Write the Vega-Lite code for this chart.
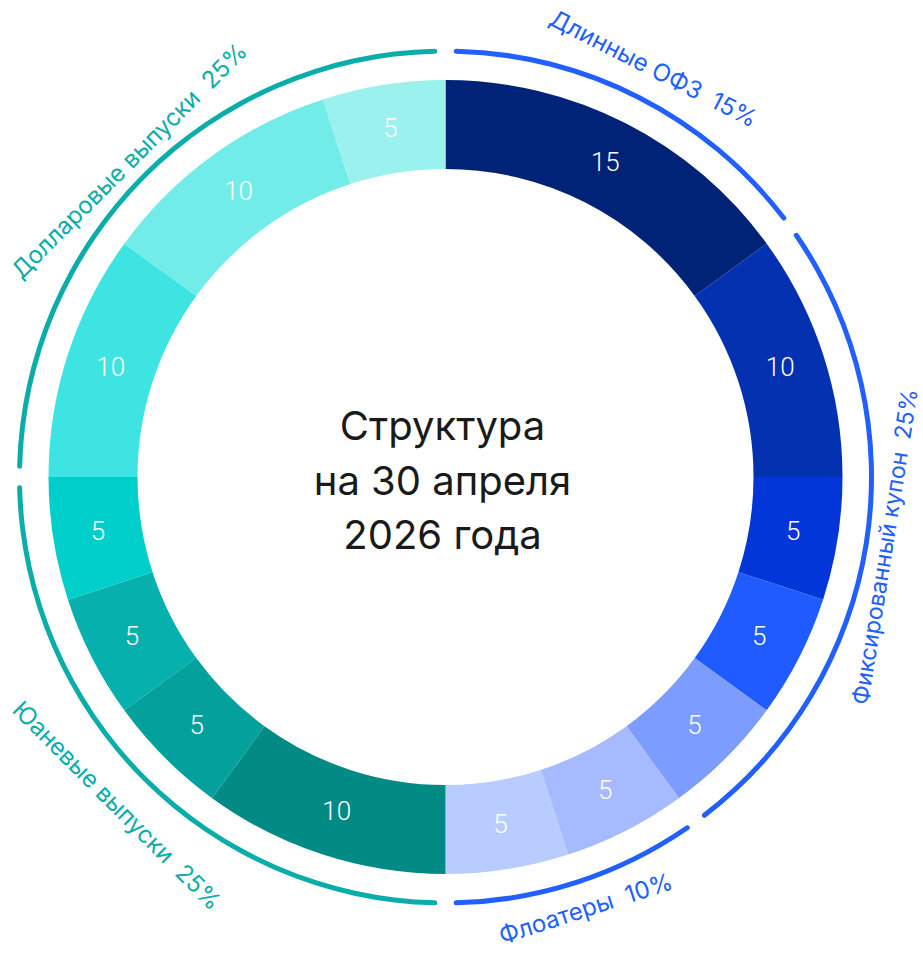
{
  "$schema": "https://vega.github.io/schema/vega-lite/v6.json",
  "width": 891,
  "height": 954,
  "autosize": {"type": "none"},
  "padding": {"left": 0, "top": 0, "right": 32, "bottom": 0},
  "background": "white",
  "config": {"view": {"stroke": null}},
  "datasets": {
    "segments": [
      {"i": 1, "seg": "s01", "group": "Длинные ОФЗ", "value": 15},
      {"i": 2, "seg": "s02", "group": "Фиксированный купон", "value": 10},
      {"i": 3, "seg": "s03", "group": "Фиксированный купон", "value": 5},
      {"i": 4, "seg": "s04", "group": "Фиксированный купон", "value": 5},
      {"i": 5, "seg": "s05", "group": "Фиксированный купон", "value": 5},
      {"i": 6, "seg": "s06", "group": "Флоатеры", "value": 5},
      {"i": 7, "seg": "s07", "group": "Флоатеры", "value": 5},
      {"i": 8, "seg": "s08", "group": "Юаневые выпуски", "value": 10},
      {"i": 9, "seg": "s09", "group": "Юаневые выпуски", "value": 5},
      {"i": 10, "seg": "s10", "group": "Юаневые выпуски", "value": 5},
      {"i": 11, "seg": "s11", "group": "Юаневые выпуски", "value": 5},
      {"i": 12, "seg": "s12", "group": "Долларовые выпуски", "value": 10},
      {"i": 13, "seg": "s13", "group": "Долларовые выпуски", "value": 10},
      {"i": 14, "seg": "s14", "group": "Долларовые выпуски", "value": 5}
    ],
    "groups": [
      {"k": 1, "group": "Длинные ОФЗ", "label": "Длинные ОФЗ\u00a0 15%", "share": 15},
      {"k": 2, "group": "Фиксированный купон", "label": "Фиксированный купон\u00a0 25%", "share": 25},
      {"k": 3, "group": "Флоатеры", "label": "Флоатеры\u00a0 10%", "share": 10},
      {"k": 4, "group": "Юаневые выпуски", "label": "Юаневые выпуски\u00a0 25%", "share": 25},
      {"k": 5, "group": "Долларовые выпуски", "label": "Долларовые выпуски\u00a0 25%", "share": 25}
    ],
    "centre": [
      {"line1": "Структура", "line2": "на 30 апреля", "line3": "2026 года"}
    ]
  },
  "resolve": {"scale": {"color": "independent"}},
  "layer": [
    {
      "data": {"name": "segments"},
      "mark": {"type": "arc", "innerRadius": 308, "outerRadius": 397},
      "encoding": {
        "theta": {"field": "value", "type": "quantitative", "stack": true},
        "order": {"field": "i", "type": "quantitative"},
        "color": {
          "field": "seg", "type": "nominal", "legend": null,
          "scale": {
            "domain": ["s01","s02","s03","s04","s05","s06","s07","s08","s09","s10","s11","s12","s13","s14"],
            "range": ["#002378","#0331b0","#0336d9","#1f5bff","#7c9dff","#a6bbff","#b9ccff","#028a84","#04a19c","#06b0ad","#00cecb","#3ee4e1","#72ece8","#9af1ee"]
          }
        }
      }
    },
    {
      "data": {"name": "segments"},
      "mark": {"type": "text", "radius": 352, "fontSize": 26, "font": "Roboto", "fontWeight": 300, "fill": "#ffffff", "align": "center", "baseline": "middle"},
      "encoding": {
        "theta": {"field": "value", "type": "quantitative", "stack": true},
        "order": {"field": "i", "type": "quantitative"},
        "text": {"field": "value", "type": "quantitative"}
      }
    },
    {
      "data": {"name": "groups"},
      "mark": {"type": "arc", "innerRadius": 423.5, "outerRadius": 428.5, "padAngle": 0.027, "cornerRadius": 2.5},
      "encoding": {
        "theta": {"field": "share", "type": "quantitative", "stack": true},
        "order": {"field": "k", "type": "quantitative"},
        "color": {
          "field": "group", "type": "nominal", "legend": null,
          "scale": {
            "domain": ["Длинные ОФЗ","Фиксированный купон","Флоатеры","Юаневые выпуски","Долларовые выпуски"],
            "range": ["#2160ff","#2160ff","#2160ff","#0badaa","#0badaa"]
          }
        }
      }
    },
    {
      "data": {"name": "groups"},
      "transform": [
        {"window": [{"op": "sum", "field": "share", "as": "cum"}], "sort": [{"field": "k"}], "frame": [null, 0]},
        {"calculate": "datum.cum - datum.share / 2", "as": "mid"},
        {"calculate": "datum.mid * 3.6", "as": "deg"},
        {"calculate": "datum.deg > 90 && datum.deg < 270 ? datum.deg - 180 : datum.deg", "as": "rot"},
        {"filter": {"field": "k", "oneOf": [1]}}
      ],
      "mark": {"type": "text", "radius": 457, "fontSize": 24, "font": "Inter", "align": "center", "baseline": "middle"},
      "encoding": {
        "theta": {"field": "mid", "type": "quantitative", "stack": null},
        "angle": {"field": "rot", "type": "quantitative", "scale": null},
        "text": {"field": "label", "type": "nominal"},
        "color": {
          "field": "group", "type": "nominal", "legend": null,
          "scale": {
            "domain": ["Длинные ОФЗ","Фиксированный купон","Флоатеры","Юаневые выпуски","Долларовые выпуски"],
            "range": ["#2160ff","#2160ff","#2160ff","#0badaa","#0badaa"]
          }
        }
      }
    },
    {
      "data": {"name": "groups"},
      "transform": [
        {"window": [{"op": "sum", "field": "share", "as": "cum"}], "sort": [{"field": "k"}], "frame": [null, 0]},
        {"calculate": "datum.cum - datum.share / 2", "as": "mid"},
        {"calculate": "datum.mid * 3.6", "as": "deg"},
        {"calculate": "datum.deg > 90 && datum.deg < 270 ? datum.deg - 180 : datum.deg", "as": "rot"},
        {"filter": {"field": "k", "oneOf": [5]}}
      ],
      "mark": {"type": "text", "radius": 446, "fontSize": 24, "font": "Inter", "align": "center", "baseline": "middle"},
      "encoding": {
        "theta": {"field": "mid", "type": "quantitative", "stack": null},
        "angle": {"field": "rot", "type": "quantitative", "scale": null},
        "text": {"field": "label", "type": "nominal"},
        "color": {
          "field": "group", "type": "nominal", "legend": null,
          "scale": {
            "domain": ["Длинные ОФЗ","Фиксированный купон","Флоатеры","Юаневые выпуски","Долларовые выпуски"],
            "range": ["#2160ff","#2160ff","#2160ff","#0badaa","#0badaa"]
          }
        }
      }
    },
    {
      "data": {"name": "groups"},
      "transform": [
        {"window": [{"op": "sum", "field": "share", "as": "cum"}], "sort": [{"field": "k"}], "frame": [null, 0]},
        {"calculate": "datum.cum - datum.share / 2", "as": "mid"},
        {"calculate": "datum.mid * 3.6", "as": "deg"},
        {"calculate": "datum.deg > 90 && datum.deg < 270 ? datum.deg - 180 : datum.deg", "as": "rot"},
        {"filter": {"field": "k", "oneOf": [2]}}
      ],
      "mark": {"type": "text", "radius": 446, "fontSize": 23, "font": "Inter", "align": "center", "baseline": "middle"},
      "encoding": {
        "theta": {"field": "mid", "type": "quantitative", "stack": null},
        "angle": {"field": "rot", "type": "quantitative", "scale": null},
        "text": {"field": "label", "type": "nominal"},
        "color": {
          "field": "group", "type": "nominal", "legend": null,
          "scale": {
            "domain": ["Длинные ОФЗ","Фиксированный купон","Флоатеры","Юаневые выпуски","Долларовые выпуски"],
            "range": ["#2160ff","#2160ff","#2160ff","#0badaa","#0badaa"]
          }
        }
      }
    },
    {
      "data": {"name": "groups"},
      "transform": [
        {"window": [{"op": "sum", "field": "share", "as": "cum"}], "sort": [{"field": "k"}], "frame": [null, 0]},
        {"calculate": "datum.cum - datum.share / 2", "as": "mid"},
        {"calculate": "datum.mid * 3.6", "as": "deg"},
        {"calculate": "datum.deg > 90 && datum.deg < 270 ? datum.deg - 180 : datum.deg", "as": "rot"},
        {"filter": {"field": "k", "oneOf": [3]}}
      ],
      "mark": {"type": "text", "radius": 455, "fontSize": 24, "font": "Inter", "align": "center", "baseline": "middle"},
      "encoding": {
        "theta": {"field": "mid", "type": "quantitative", "stack": null},
        "angle": {"field": "rot", "type": "quantitative", "scale": null},
        "text": {"field": "label", "type": "nominal"},
        "color": {
          "field": "group", "type": "nominal", "legend": null,
          "scale": {
            "domain": ["Длинные ОФЗ","Фиксированный купон","Флоатеры","Юаневые выпуски","Долларовые выпуски"],
            "range": ["#2160ff","#2160ff","#2160ff","#0badaa","#0badaa"]
          }
        }
      }
    },
    {
      "data": {"name": "groups"},
      "transform": [
        {"window": [{"op": "sum", "field": "share", "as": "cum"}], "sort": [{"field": "k"}], "frame": [null, 0]},
        {"calculate": "datum.cum - datum.share / 2", "as": "mid"},
        {"calculate": "datum.mid * 3.6", "as": "deg"},
        {"calculate": "datum.deg > 90 && datum.deg < 270 ? datum.deg - 180 : datum.deg", "as": "rot"},
        {"filter": {"field": "k", "oneOf": [4]}}
      ],
      "mark": {"type": "text", "radius": 466, "fontSize": 24, "font": "Inter", "align": "center", "baseline": "middle"},
      "encoding": {
        "theta": {"field": "mid", "type": "quantitative", "stack": null},
        "angle": {"field": "rot", "type": "quantitative", "scale": null},
        "text": {"field": "label", "type": "nominal"},
        "color": {
          "field": "group", "type": "nominal", "legend": null,
          "scale": {
            "domain": ["Длинные ОФЗ","Фиксированный купон","Флоатеры","Юаневые выпуски","Долларовые выпуски"],
            "range": ["#2160ff","#2160ff","#2160ff","#0badaa","#0badaa"]
          }
        }
      }
    },
    {
      "data": {"name": "centre"},
      "transform": [
        {"calculate": "[datum.line1, datum.line2, datum.line3]", "as": "lines"}
      ],
      "mark": {"type": "text", "fontSize": 40, "font": "Inter", "fill": "#1a1a1a", "align": "center", "baseline": "alphabetic", "lineHeight": 54.5, "dy": -37, "dx": -3},
      "encoding": {
        "text": {"field": "lines"}
      }
    }
  ]
}
